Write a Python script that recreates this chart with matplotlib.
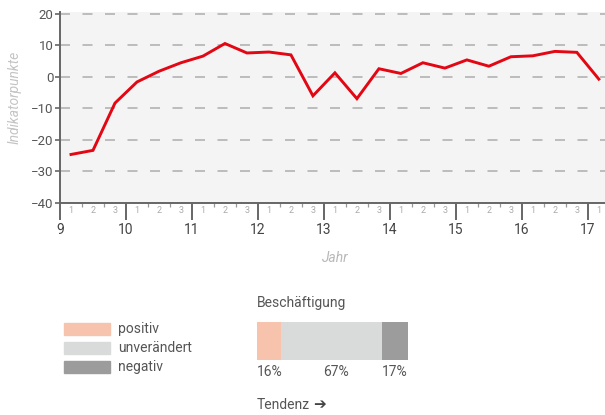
import numpy as np
import matplotlib.pyplot as plt
from matplotlib.patches import Rectangle

plt.rcParams['font.family'] = ['Roboto', 'DejaVu Sans']

# quarterly-ish indicator (three periods per year), 2009 .. 2017
years = [9, 10, 11, 12, 13, 14, 15, 16, 17]
values = [-24.6, -23.3, -8.3,
          -1.6, 1.8, 4.5,
          6.6, 10.6, 7.6,
          7.9, 7.0, -6.0,
          1.3, -6.9, 2.6,
          1.1, 4.5, 2.8,
          5.4, 3.4, 6.4,
          6.7, 8.1, 7.8,
          -0.7]
yticks = [20, 10, 0, -10, -20, -30, -40]

# Beschäftigung tendency
shares = [16, 67, 17]
share_labels = ['positiv', 'unverändert', 'negativ']
share_colors = ['#f7c3ad', '#d9dbda', '#9c9c9c']

W, H = 605, 415
fig = plt.figure(figsize=(W / 100, H / 100), dpi=100)

# ---- line chart
ax = fig.add_axes([60 / W, (H - 203) / H, 545 / W, 191 / H])
ax.set_facecolor('#f4f4f4')
x = np.array([9 + (i + 0.5) / 3 for i in range(len(values))])
ax.set_xlim(9, 17.26)
ax.set_ylim(-40, 20.6)

for yv in yticks[:-1]:
    ax.axhline(yv, color='#b3b3b3', lw=1.2, dashes=(6, 7.5), zorder=1)
ax.plot(x, values, color='#e30613', lw=2.1, zorder=3, solid_joinstyle='miter')

for s in ['top', 'right']:
    ax.spines[s].set_visible(False)
for s in ['left', 'bottom']:
    ax.spines[s].set_color('#666666')
    ax.spines[s].set_linewidth(1.4)

ax.set_yticks(yticks)
ax.set_yticklabels([str(v).replace('-', '\u2212') for v in yticks])
ax.tick_params(axis='y', length=3.6, width=1.2, color='#666666',
               labelcolor='#555555', labelsize=9.5, pad=1)

ax.set_xticks(years)
ax.set_xticklabels([str(y) for y in years])
ax.tick_params(axis='x', which='major', length=12.5, width=1.4, color='#666666',
               labelcolor='#444444', labelsize=10, pad=2)
centers = [y + (k + 0.5) / 3 for y in years for k in range(3)]
centers = [c for c in centers if c < 17.26]
ax.set_xticks(centers, minor=True)
ax.set_xticklabels([str(k % 3 + 1) for k in range(len(centers))], minor=True)
ax.tick_params(axis='x', which='minor', length=0, labelsize=6.5,
               labelcolor='#aaaaaa', pad=2)

sec = ax.secondary_xaxis('bottom')
bounds = [y + k / 3 for y in years for k in (1, 2) if y + k / 3 < 17.26]
sec.set_xticks(bounds)
sec.set_xticklabels([])
sec.tick_params(length=3, width=0.9, color='#999999')
sec.spines['bottom'].set_visible(False)

fig.text(15 / W, (H - 97) / H, 'Indikatorpunkte', style='italic',
         color='#c4c4c4', fontsize=10, rotation=90, ha='center', va='center')
fig.text(335 / W, (H - 258) / H, 'Jahr', style='italic', color='#b8b8b8',
         fontsize=10, ha='center', va='center')

# ---- legend
for i, (lab, col) in enumerate(zip(share_labels, share_colors)):
    y0 = 323 + i * 19
    fig.patches.append(Rectangle((64 / W, (H - y0 - 12) / H), 46 / W, 12 / H,
                                 transform=fig.transFigure, color=col))
    fig.text(118 / W, (H - y0 - 6) / H, lab, fontsize=10, color='#555555',
             va='center', ha='left')

# ---- stacked bar
bx = fig.add_axes([257 / W, (H - 360) / H, 151 / W, 38 / H])
left = 0
for v, col in zip(shares, share_colors):
    bx.barh(0, v, left=left, height=1, color=col)
    left += v
bx.set_xlim(0, 100)
bx.set_ylim(-0.5, 0.5)
bx.axis('off')

starts = np.cumsum([0] + shares[:-1])
for i, (v, s) in enumerate(zip(shares, starts)):
    if i == 1:
        bx.text(s + v / 2 + 3, -0.62, f'{v}%', ha='center', va='top',
                fontsize=10, color='#555555', clip_on=False)
    else:
        bx.text(s, -0.62, f'{v}%', ha='left', va='top', fontsize=10,
                color='#555555', clip_on=False)

fig.text(257 / W, (H - 303) / H, 'Beschäftigung', fontsize=10, color='#555555',
         va='center', ha='left')
fig.text(257 / W, (H - 405) / H, 'Tendenz', fontsize=10,
         color='#555555', va='center', ha='left')
fig.text(313 / W, (H - 405) / H, '\u2794', fontsize=11, fontweight='bold',
         color='#444444', va='center', ha='left', family='DejaVu Sans')

fig.savefig('out.png', dpi=100)
